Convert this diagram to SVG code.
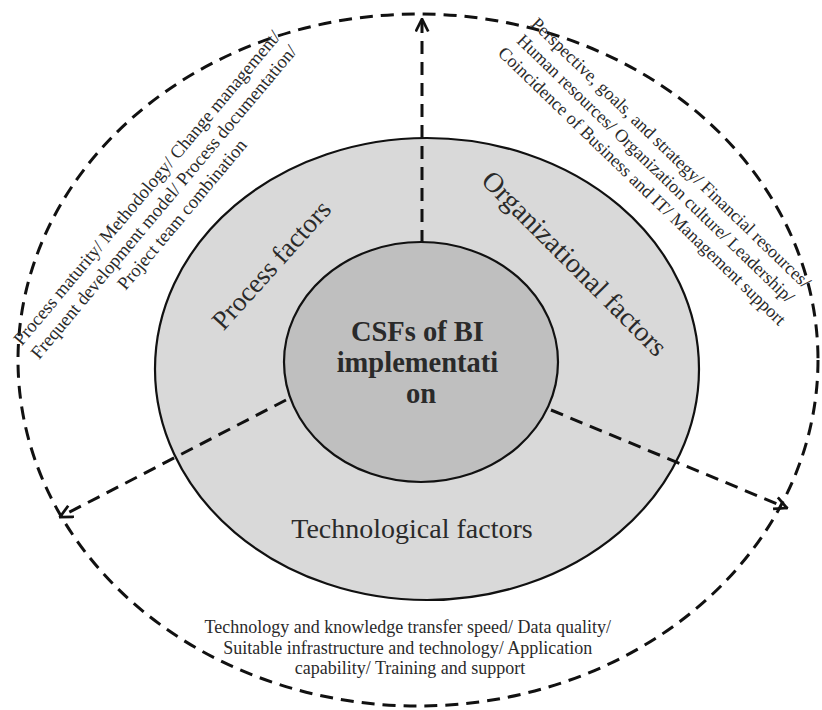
<svg xmlns="http://www.w3.org/2000/svg" width="822" height="710" viewBox="0 0 822 710">
<style>
.serif{font-family:"Liberation Serif","Times New Roman",serif;fill:#2a2a2a}
.lbl{font-size:28px}
.small{font-size:18px}
.dash{fill:none;stroke:#111;stroke-width:3;stroke-dasharray:13 8}
.solid{stroke:#111;stroke-width:2.2}
</style>
<defs>
<marker id="arr" viewBox="0 0 12 12" refX="11" refY="6" markerWidth="15" markerHeight="15" markerUnits="userSpaceOnUse" orient="auto">
<path d="M1,1 L11,6 L1,11" fill="none" stroke="#111" stroke-width="2.2"/>
</marker>
</defs>
<rect width="822" height="710" fill="#fff"/>
<g id="outer">
<ellipse cx="418" cy="360" rx="400" ry="346" fill="#f2f2f2" class="dash"/>
</g>
<g id="middle">
<ellipse cx="427" cy="369" rx="272" ry="231" fill="#d9d9d9" class="solid"/>
</g>
<g id="inner">
<ellipse cx="421" cy="362" rx="137" ry="120" fill="#bfbfbf" class="solid"/>
</g>
<g id="connectors">
<line x1="422" y1="243" x2="422" y2="19" class="dash" marker-end="url(#arr)"/>
<line x1="286" y1="400" x2="60" y2="517" class="dash" marker-end="url(#arr)"/>
<line x1="551" y1="410" x2="787" y2="508" class="dash" marker-end="url(#arr)"/>
</g>
<g id="center-label">
<text class="serif" font-size="28.5" font-weight="bold" text-anchor="middle">
<tspan x="421" y="341">CSFs of BI</tspan>
<tspan x="421" y="372">implementati</tspan>
<tspan x="421" y="403">on</tspan>
</text>
</g>
<g id="process-label">
<text class="serif" font-size="27" text-anchor="middle" transform="translate(278,271) rotate(-48)">Process factors</text>
</g>
<g id="org-label">
<text class="serif lbl" text-anchor="middle" transform="translate(568,270) rotate(45)">Organizational factors</text>
</g>
<g id="tech-label">
<text class="serif lbl" x="412" y="538" text-anchor="middle">Technological factors</text>
</g>
<g id="process-items">
<text class="serif" font-size="18.5" text-anchor="middle" transform="translate(153,190) rotate(-50)">
<tspan x="0" y="0">Process maturity/ Methodology/ Change management/</tspan>
<tspan x="0" y="22">Frequent development model/ Process documentation/</tspan>
<tspan x="0" y="44">Project team combination</tspan>
</text>
</g>
<g id="org-items">
<text class="serif" font-size="18" text-anchor="middle" transform="translate(672,155) rotate(44)">
<tspan x="0" y="5">Perspective, goals, and strategy/ Financial resources/</tspan>
<tspan x="0" y="27">Human resources/ Organization culture/ Leadership/</tspan>
<tspan x="0" y="49">Coincidence of Business and IT/ Management support</tspan>
</text>
</g>
<g id="tech-items">
<text class="serif small" text-anchor="middle">
<tspan x="410" y="633">Technology and knowledge transfer speed/ Data quality/</tspan>
<tspan x="410" y="654">Suitable infrastructure and technology/ Application</tspan>
<tspan x="410" y="674">capability/ Training  and support</tspan>
</text>
</g>
</svg>
